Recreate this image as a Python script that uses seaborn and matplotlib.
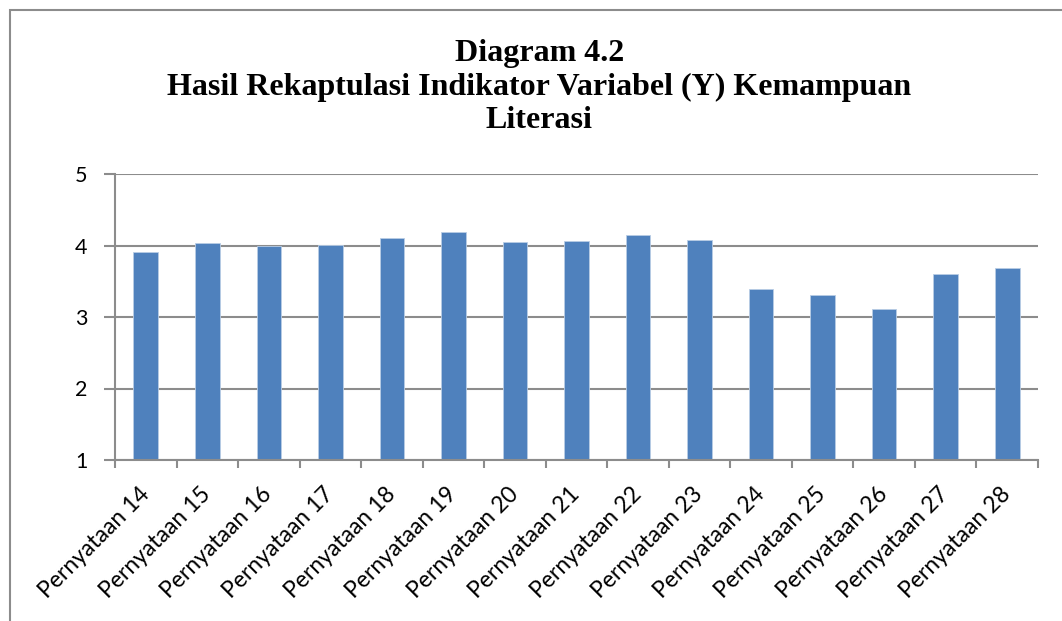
import matplotlib
matplotlib.use("Agg")
import matplotlib.pyplot as plt
from matplotlib.patches import Rectangle
import numpy as np
import pandas as pd
import seaborn as sns

# Data
pernyataan = ["Pernyataan %d" % n for n in range(14, 29)]
skor = [3.91, 4.04, 4.00, 4.01, 4.11, 4.19, 4.05, 4.06,
        4.15, 4.08, 3.39, 3.31, 3.11, 3.60, 3.68]
yticks = [1, 2, 3, 4, 5]

df = pd.DataFrame({"Pernyataan": pernyataan, "Skor": skor})

sns.set_style("white")
plt.rcParams["font.family"] = ["Lato", "DejaVu Sans"]
plt.rcParams["text.color"] = "black"
plt.rcParams["xtick.labelcolor"] = "black"
plt.rcParams["ytick.labelcolor"] = "black"

fig = plt.figure(figsize=(10.62, 6.21), dpi=100)
ax = fig.add_axes([115/1062, 1 - 460/621, (1038 - 115)/1062, (460 - 174)/621])

grey = "#8c8c8c"
ax.set_axisbelow(True)
ax.yaxis.grid(True, color=grey, lw=1.5)

sns.barplot(data=df, x="Pernyataan", y="Skor", color="#4F81BD", width=0.4,
            saturation=1, edgecolor="#b9cde5", linewidth=0.6, ax=ax)

ax.set_ylim(1, 5)
ax.set_yticks(yticks)
ax.set_xlim(-0.5, len(pernyataan) - 0.5)
ax.set_xlabel("")
ax.set_ylabel("")

for s in ["top", "right"]:
    ax.spines[s].set_visible(False)
for s in ["left", "bottom"]:
    ax.spines[s].set_color(grey)
    ax.spines[s].set_linewidth(1.5)

ax.tick_params(axis="y", length=8, width=1.5, color=grey, labelsize=15.5, pad=12, left=True)
ax.set_xticks(np.arange(-0.5, len(pernyataan)), minor=True)
ax.tick_params(axis="x", which="minor", length=6, width=1.5, color=grey, bottom=True)
ax.tick_params(axis="x", which="major", length=0, labelsize=16.5, pad=22)
plt.setp(ax.get_xticklabels(), rotation=45, ha="right", va="center", rotation_mode="anchor")

fig.text(0.508, 1 - 87/621, "Diagram 4.2\nHasil Rekaptulasi Indikator Variabel (Y) Kemampuan\nLiterasi",
         ha="center", va="center", fontsize=23, fontweight="bold", color="black",
         family=["Liberation Serif", "DejaVu Serif"], linespacing=1.22)

# outer chart border (right and bottom edges run off the picture)
fig.patches.append(Rectangle((10/1062, -0.2), 1.2, 1 - 10/621 + 0.2, transform=fig.transFigure,
                             fill=False, edgecolor=grey, lw=1.5))

fig.savefig("out.png", dpi=100)
